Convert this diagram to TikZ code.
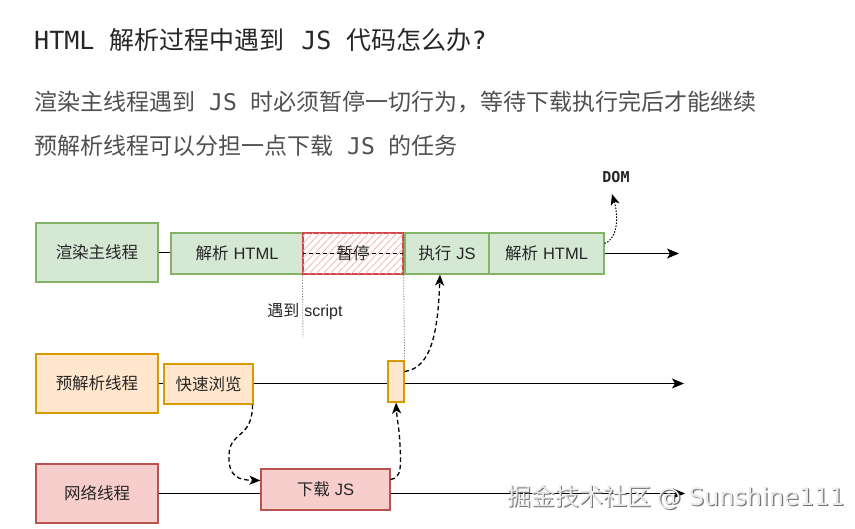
\documentclass[tikz,border=0pt]{standalone}
\usepackage{fontspec}
\usetikzlibrary{arrows.meta}
\newfontfamily\cjk{Noto Sans CJK SC}
\newfontfamily\lat{Liberation Sans}
\newfontfamily\mono{DejaVu Sans Mono}
\newfontfamily\dvs{DejaVu Sans}
\definecolor{gfill}{HTML}{D5E8D4}\definecolor{gline}{HTML}{82B366}
\definecolor{ofill}{HTML}{FFE6CC}\definecolor{oline}{HTML}{D79B00}
\definecolor{rfill}{HTML}{F8CECC}\definecolor{rline}{HTML}{B85450}
\definecolor{pline}{HTML}{D0484B}\definecolor{hatchc}{HTML}{F2B8B8}
\definecolor{titlec}{HTML}{262626}\definecolor{subc}{HTML}{505050}
\tikzset{
  box/.style={draw, line width=1.2pt, inner sep=0pt, text=black!85, font=\fontsize{16.5}{19}\selectfont},
  gbox/.style={box, fill=gfill, draw=gline},
  obox/.style={box, fill=ofill, draw=oline},
  rbox/.style={box, fill=rfill, draw=rline},
  tl/.style={line width=1.2pt},
  arr/.style={line width=1.2pt, -{Stealth[length=12pt,width=10pt,inset=3pt]}},
  darr/.style={line width=1.3pt, dash pattern=on 4.5pt off 3pt, -{Stealth[length=11pt,width=9pt,inset=3pt]}},
  dotarr/.style={line width=1pt, dash pattern=on 1.5pt off 1.5pt, -{Stealth[length=11pt,width=9pt,inset=3pt]}},
  vdot/.style={line width=0.8pt, gray, dash pattern=on 1.2pt off 1.5pt},
}
\begin{document}
\begin{tikzpicture}[x=1pt,y=-1pt]
\useasboundingbox[fill=white] (0,0) rectangle (855,529);
% headings
\node[anchor=west, inner sep=0pt, text=titlec, font=\fontsize{25}{30}\selectfont] (title) at (34,40)
  {{\mono HTML}\hspace{15pt}{\cjk 解析过程中遇到}\hspace{17pt}{\mono JS}\hspace{15pt}{\cjk 代码怎么办}{\mono ?}};
\node[anchor=west, inner sep=0pt, text=subc, font=\fontsize{23}{28}\selectfont] (sub1) at (34,102)
  {{\cjk 渲染主线程遇到}\hspace{14pt}{\mono JS}\hspace{14pt}{\cjk 时必须暂停一切行为，等待下载执行完后才能继续}};
\node[anchor=west, inner sep=0pt, text=subc, font=\fontsize{23}{28}\selectfont] (sub2) at (34,146)
  {{\cjk 预解析线程可以分担一点下载}\hspace{14pt}{\mono JS}\hspace{14pt}{\cjk 的任务}};
% main thread
\node[gbox, minimum width=122pt, minimum height=59pt] (main) at (97,252.5) {\cjk 渲染主线程};
\node[gbox, minimum width=132pt, minimum height=41pt] (p1) at (237,253.5) {{\cjk 解析} {\lat HTML}};
\node[box, draw=pline, minimum width=100pt, minimum height=41pt] (pause) at (353,253.5) {};
\begin{scope}
  \clip (pause.south west) rectangle (pause.north east);
  \foreach \x in {258,265,...,410} \draw[hatchc, line width=0.8pt] (\x,276) -- (\x+43,231);
\end{scope}
\draw[tl, dash pattern=on 4pt off 3pt] (pause.west) -- (pause.east);
\node[inner sep=0pt, text=black!85, font=\fontsize{16.5}{19}\selectfont] (pauset) at (pause.center) {\cjk 暂停};
\draw[line width=1.2pt, draw=pline] (pause.south west) rectangle (pause.north east);
\node[gbox, minimum width=84pt, minimum height=41pt] (exec) at (447,253.5) {{\cjk 执行} {\lat JS}};
\node[gbox, minimum width=115pt, minimum height=41pt] (p2) at (546.5,253.5) {{\cjk 解析} {\lat HTML}};
\coordinate (mainend) at (679,253.5);
\draw[tl] (main.east) -- (main.east -| p1.west);
\draw[arr] (p2.east) -- (mainend);
\node[font=\fontsize{15}{17}\selectfont\bfseries, text=black!85, inner sep=0pt] (dom) at (616,177) {\mono DOM};
\draw[dotarr] ([yshift=10pt]p2.east) .. controls (619,238) and (618,214) .. (612,194);
% markers
\coordinate (scriptend) at (303,337);
\draw[vdot] (pause.south west) -- (scriptend);
\node[inner sep=0pt, text=black!85, font=\fontsize{16}{18}\selectfont] (meet) at (305,312) {{\cjk 遇到} {\lat script}};
% preparse thread
\node[obox, minimum width=122pt, minimum height=59pt] (pre) at (97,383.5) {\cjk 预解析线程};
\node[obox, minimum width=89pt, minimum height=40pt] (scan) at (208.5,384) {\cjk 快速浏览};
\node[obox, minimum width=16pt, minimum height=41pt] (small) at (396,381.5) {};
\coordinate (preend) at (684,383.5);
\draw[tl] (pre.east) -- (pre.east -| scan.west);
\draw[tl] (pre.east -| scan.east) -- (pre.east -| small.west);
\draw[arr] (pre.east -| small.east) -- (preend);
\draw[vdot] (pause.south east) -- (small.north east);
% network thread
\node[rbox, minimum width=122pt, minimum height=59pt] (net) at (97,493.5) {\cjk 网络线程};
\node[rbox, minimum width=129pt, minimum height=41pt] (dl) at (325.5,489.5) {{\cjk 下载} {\lat JS}};
\coordinate (netend) at (685,493.5);
\draw[tl] (net.east) -- (net.east -| dl.west);
\draw[arr] (net.east -| dl.east) -- (netend);
% dashed flow arrows
\draw[darr] ([xshift=-1pt]scan.south east) .. controls (252,440) and (230,430) .. (229,455) .. controls (228,478) and (240,480) .. ([yshift=9pt]dl.west);
\draw[darr] ([yshift=10pt]dl.east) .. controls (402,478) and (401,465) .. (400,445) .. controls (399,425) and (397,420) .. (small.south);
\draw[darr] ([yshift=10pt]small.east) .. controls (432,368) and (438,330) .. ([xshift=-7pt]exec.south);
% watermark
\node[inner sep=0pt, anchor=west, text=gray!90!black, font=\fontsize{24}{28}\selectfont] (wm0) at (508.2,498.2) {{\cjk 掘金技术社区}\hspace{6pt}{\dvs @ Sunshine111}};
\node[inner sep=0pt, anchor=west, text=gray!15, font=\fontsize{24}{28}\selectfont] (wm) at (507,497) {{\cjk 掘金技术社区}\hspace{6pt}{\dvs @ Sunshine111}};
\end{tikzpicture}
\end{document}
